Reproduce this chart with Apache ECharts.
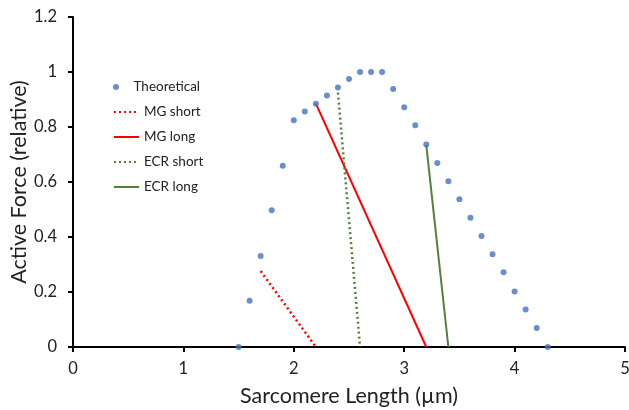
<!DOCTYPE html>
<html>
<head>
<meta charset="utf-8">
<script src="https://cdn.jsdelivr.net/npm/echarts@6/dist/echarts.min.js"></script>
<style>
  html, body { margin: 0; padding: 0; background: #fff; }
  #chart { width: 629px; height: 410px; }
</style>
</head>
<body>
<div id="chart"></div>
<script>
// theoretical sarcomere length-tension curve
const theoLength = [1.5, 1.6, 1.7, 1.8, 1.9, 2.0, 2.1, 2.2, 2.3, 2.4, 2.5, 2.6, 2.7, 2.8, 2.9,
  3.0, 3.1, 3.2, 3.3, 3.4, 3.5, 3.6, 3.7, 3.8, 3.9, 4.0, 4.1, 4.2, 4.3];
const theoForce = [0, 0.168, 0.331, 0.497, 0.659, 0.825, 0.856, 0.885, 0.915, 0.944, 0.975, 1, 1, 1, 0.938,
  0.872, 0.806, 0.736, 0.669, 0.603, 0.537, 0.470, 0.404, 0.337, 0.272, 0.202, 0.136, 0.069, 0];

// measured ranges (start / end points)
const mgShort = [[1.7, 0.276], [2.2, 0]];
const mgLong = [[2.2, 0.885], [3.2, 0]];
const ecrShort = [[2.4, 0.925], [2.6, 0]];
const ecrLong = [[3.2, 0.734], [3.4, 0]];

const xTicks = { min: 0, max: 5, step: 1 };
const yTicks = { min: 0, max: 1.2, step: 0.2 };

const font = 'Lato, "Open Sans", sans-serif';
const red = '#ff0000';
const green = '#548235';

const chart = echarts.init(document.getElementById('chart'));

const lineSeries = (name, data, color, type) => ({
  name: name,
  type: 'line',
  data: data,
  showSymbol: false,
  symbol: 'none',
  color: color,
  lineStyle: { color: color, width: type === 'solid' ? 2 : 2.5, type: type === 'solid' ? 'solid' : [2, 3] },
  z: 2
});

// legend entries for lines: hide the symbol, keep the line
const lineLegend = ['MG short', 'MG long', 'ECR short', 'ECR long']
  .map(n => ({ name: n, itemStyle: { opacity: 0 } }));

chart.setOption({
  animation: false,
  backgroundColor: '#fff',
  textStyle: { fontFamily: font },
  grid: { left: 73, right: 4, top: 17, bottom: 63, containLabel: false, outerBoundsMode: 'none' },
  legend: [
    {
      data: ['Theoretical'],
      left: 108,
      top: 75,
      itemWidth: 25,
      itemHeight: 6,
      itemGap: 4,
      textStyle: { fontSize: 13.5, color: '#222', fontFamily: font }
    },
    {
      data: lineLegend,
      orient: 'vertical',
      left: 108,
      top: 100,
      itemWidth: 25,
      itemHeight: 14,
      itemGap: 11,
      textStyle: { fontSize: 13.5, color: '#222', fontFamily: font }
    }
  ],
  xAxis: {
    type: 'value',
    min: xTicks.min,
    max: xTicks.max,
    interval: xTicks.step,
    name: 'Sarcomere Length (µm)',
    nameLocation: 'middle',
    nameGap: 38,
    nameMoveOverlap: false,
    nameTextStyle: { fontSize: 21.5, color: '#222', fontFamily: font },
    axisLine: { onZero: false, lineStyle: { color: '#000', width: 2 } },
    axisTick: { show: true, length: 5, lineStyle: { color: '#000', width: 2 } },
    axisLabel: { fontSize: 16.5, color: '#222', margin: 13, fontFamily: font },
    splitLine: { show: false }
  },
  yAxis: {
    type: 'value',
    min: yTicks.min,
    max: yTicks.max,
    interval: yTicks.step,
    name: 'Active Force (relative)',
    nameLocation: 'middle',
    nameGap: 43,
    nameMoveOverlap: false,
    nameTextStyle: { fontSize: 21.5, color: '#222', fontFamily: font },
    axisLine: { show: true, onZero: false, lineStyle: { color: '#000', width: 2 } },
    axisTick: { show: true, length: 5, lineStyle: { color: '#000', width: 2 } },
    axisLabel: { fontSize: 16.5, color: '#222', margin: 16, fontFamily: font },
    splitLine: { show: false }
  },
  series: [
    {
      name: 'Theoretical',
      type: 'scatter',
      data: theoLength.map((x, i) => [x, theoForce[i]]),
      symbol: 'circle',
      symbolSize: 6,
      color: '#4472c4',
      itemStyle: { color: '#4472c4' },
      z: 3
    },
    lineSeries('MG short', mgShort, red, 'dotted'),
    lineSeries('MG long', mgLong, red, 'solid'),
    lineSeries('ECR short', ecrShort, green, 'dotted'),
    lineSeries('ECR long', ecrLong, green, 'solid')
  ]
});
</script>
</body>
</html>
